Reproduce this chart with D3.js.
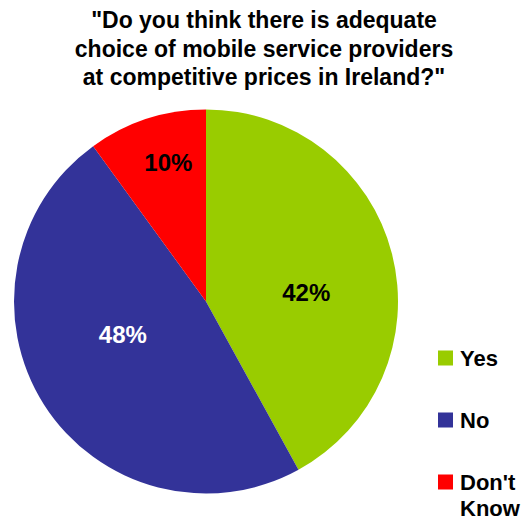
<!DOCTYPE html>
<html>
<head>
<meta charset="utf-8">
<script src="https://cdn.jsdelivr.net/npm/d3@7"></script>
<style>
  html, body { margin: 0; padding: 0; background: #fff; overflow: hidden; }
  svg { display: block; }
  text { font-family: "Liberation Sans", Arial, sans-serif; font-weight: bold; }
</style>
</head>
<body>
<svg id="chart" width="523" height="520"></svg>
<script>
// Survey answers and their shares (%)
const categories = ["Yes", "No", "Don't Know"];
const values = [42, 48, 10];
const legendLabels = [["Yes"], ["No"], ["Don't", "Know"]];
const titleLines = [
  "\"Do you think there is adequate",
  "choice of mobile service providers",
  "at competitive prices in Ireland?\""
];

// Styling
const colors = ["#99CC00", "#333399", "#FF0000"];
const labelColors = ["#000", "#fff", "#000"];
// Small offsets that move each percentage label off its arc centroid
const labelNudge = [[-2, 17], [6, -24], [-5, -39]];

const svg = d3.select("#chart");
const cx = 206, cy = 301.5, R = 192;

// Title
svg.append("g")
  .selectAll("text")
  .data(titleLines)
  .join("text")
  .attr("x", 264)
  .attr("y", (d, i) => 28 + i * 28.5)
  .attr("text-anchor", "middle")
  .attr("font-size", 23)
  .attr("fill", "#000")
  .text(d => d);

// Pie, starting at 12 o'clock and running clockwise
const pie = d3.pie().sort(null).value(d => d.value);
const arcs = pie(categories.map((c, i) => ({ cat: c, value: values[i], i })));

const arc = d3.arc().innerRadius(0).outerRadius(R);
const labelArc = d3.arc().innerRadius(0).outerRadius(R * 1.1);

const g = svg.append("g").attr("transform", `translate(${cx},${cy})`);

g.selectAll("path")
  .data(arcs)
  .join("path")
  .attr("d", arc)
  .attr("fill", d => colors[d.data.i]);

g.selectAll("text.pct")
  .data(arcs)
  .join("text")
  .attr("class", "pct")
  .attr("transform", d => {
    const [x, y] = labelArc.centroid(d);
    const [nx, ny] = labelNudge[d.data.i];
    return `translate(${x + nx},${y + ny})`;
  })
  .attr("text-anchor", "middle")
  .attr("dy", "0.36em")
  .attr("font-size", 24)
  .attr("fill", d => labelColors[d.data.i])
  .text(d => d.data.value + "%");

// Legend
const legendY = d3.scalePoint().domain(categories).range([358, 482]);
const items = svg.append("g")
  .selectAll("g")
  .data(categories)
  .join("g")
  .attr("transform", d => `translate(438,${legendY(d)})`);

items.append("rect")
  .attr("x", 0)
  .attr("y", -7.5)
  .attr("width", 15)
  .attr("height", 15)
  .attr("fill", (d, i) => colors[i]);

items.append("text")
  .attr("x", 22)
  .attr("y", 8)
  .attr("font-size", 22)
  .attr("fill", "#000")
  .selectAll("tspan")
  .data((d, i) => legendLabels[i])
  .join("tspan")
  .attr("x", 22)
  .attr("dy", (d, j) => j === 0 ? 0 : 26)
  .text(d => d);
</script>
</body>
</html>
